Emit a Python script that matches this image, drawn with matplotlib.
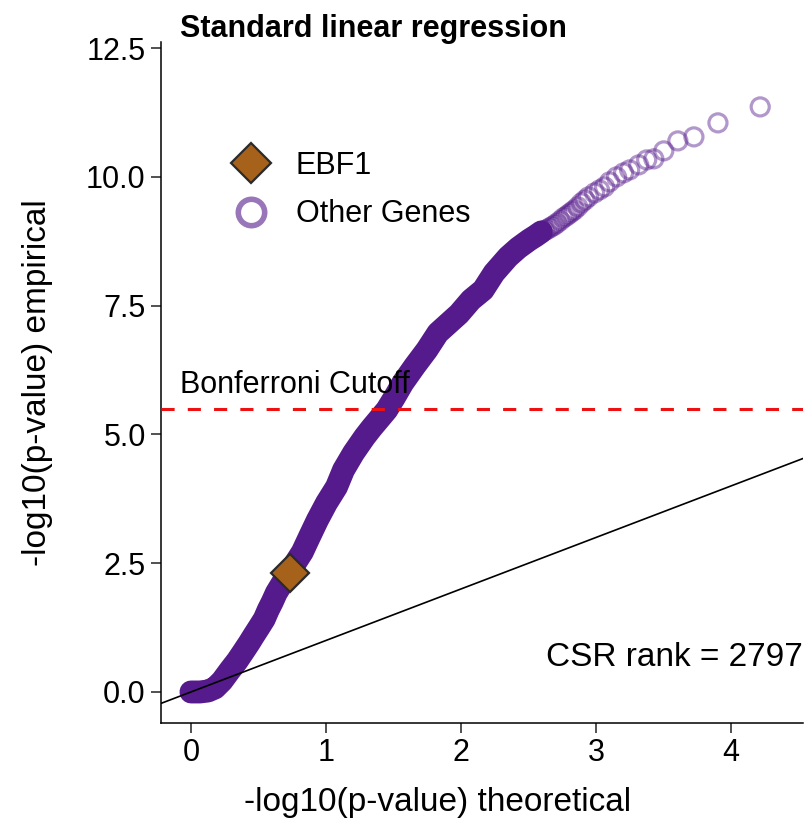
import matplotlib
matplotlib.use("Agg")
import matplotlib.pyplot as plt
from matplotlib.lines import Line2D

plt.rcParams['font.family'] = ['Liberation Sans', 'DejaVu Sans']

# ---- data ----
# dense part of the "Other Genes" QQ curve (theoretical, empirical)
dense_x = [0.000, 0.067, 0.126, 0.178, 0.230, 0.290, 0.342, 0.387, 0.431, 0.468,
           0.506, 0.543, 0.572, 0.602, 0.632, 0.677, 0.729, 0.773, 0.825, 0.877,
           0.937, 1.004, 1.078, 1.130, 1.204, 1.286, 1.338, 1.450, 1.509, 1.569,
           1.658, 1.747, 1.829, 1.903, 1.985, 2.074, 2.164, 2.245, 2.349, 2.424,
           2.506, 2.550, 2.595]
dense_y = [0.000, 0.000, 0.019, 0.078, 0.214, 0.427, 0.602, 0.777, 0.951, 1.107,
           1.262, 1.417, 1.592, 1.748, 1.922, 2.117, 2.311, 2.505, 2.718, 3.010,
           3.340, 3.670, 3.981, 4.311, 4.641, 4.951, 5.126, 5.476, 5.728, 6.000,
           6.330, 6.641, 6.971, 7.146, 7.340, 7.612, 7.806, 8.136, 8.447, 8.621,
           8.777, 8.850, 8.932]
# sparse upper tail of "Other Genes"
tail_x = [2.615, 2.630, 2.650, 2.669, 2.690, 2.710, 2.735, 2.758, 2.780, 2.800,
          2.820, 2.840, 2.865, 2.892, 2.918, 2.944, 2.989, 3.026, 3.063, 3.100,
          3.152, 3.204, 3.249, 3.316, 3.375, 3.428, 3.502, 3.606, 3.725, 3.903,
          4.216]
tail_y = [8.950, 8.970, 9.000, 9.029, 9.060, 9.100, 9.150, 9.204, 9.240, 9.280,
          9.320, 9.359, 9.420, 9.495, 9.550, 9.612, 9.689, 9.748, 9.806, 9.903,
          10.000, 10.078, 10.136, 10.233, 10.330, 10.350, 10.505, 10.699, 10.777, 11.049,
          11.359]
# highlighted gene
ebf1_x = [0.731]
ebf1_y = [2.317]

bonferroni = 5.50
csr_rank = 2797
x_ticks = [0, 1, 2, 3, 4]
y_ticks = [0.0, 2.5, 5.0, 7.5, 10.0, 12.5]

purple = '#551A8B'
brown = '#A6611A'

fig = plt.figure(figsize=(8.09, 8.21), dpi=100)
ax = fig.add_axes([0.1990, 0.1194, 0.7936, 0.8295])

# dense band (heavily overlapping points)
ax.plot(dense_x, dense_y, color=purple, lw=16.5, solid_capstyle='round',
        solid_joinstyle='round', zorder=2)
ax.scatter(dense_x + tail_x, dense_y + tail_y, s=13**2, facecolors='none',
           edgecolors=purple, linewidths=2.3, alpha=0.45, zorder=3)

# reference lines
ax.axline((0, 0), slope=1, color='black', lw=1.2, zorder=4)
ax.axhline(bonferroni, color='#EE1111', lw=2.2, linestyle=(0, (4.3, 4.3)), zorder=4)

ax.plot(ebf1_x, ebf1_y, marker='D', ms=19, mfc=brown, mec='#2a2a2a', mew=1.6,
        ls='none', zorder=6)

ax.text(-0.082, 5.81, 'Bonferroni Cutoff', fontsize=22, ha='left', va='baseline', zorder=5)
ax.text(4.533, 0.505, f'CSR rank = {csr_rank}', fontsize=24, ha='right', va='baseline', zorder=5)

ax.set_xlim(-0.222, 4.533)
ax.set_ylim(-0.602, 12.62)
ax.set_xticks(x_ticks)
ax.set_xticklabels([str(t) for t in x_ticks])
ax.set_yticks(y_ticks)
ax.set_yticklabels([f'{t:.1f}' for t in y_ticks])
ax.tick_params(labelsize=22, length=7, width=1.1, pad=4, color='#222222')
for s in ['top', 'right']:
    ax.spines[s].set_visible(False)
for s in ['left', 'bottom']:
    ax.spines[s].set_linewidth(1.1)

fig.text(438 / 809, 1 - 802 / 821, '-log10(p-value) theoretical', fontsize=24,
         ha='center', va='center')
ax.set_ylabel('-log10(p-value) empirical', fontsize=24)
ax.yaxis.set_label_coords(-0.193, 0.5)
ax.yaxis.label.set_va('center')

fig.text(180 / 809, 1 - 29 / 821, 'Standard linear regression', fontsize=22,
         fontweight='bold', ha='left', va='center')

handles = [
    Line2D([], [], marker='D', ms=20, mfc=brown, mec='#2a2a2a', mew=1.6, ls='none'),
    Line2D([], [], marker='o', ms=19, mfc='none', mec=purple, mew=4, alpha=0.6, ls='none'),
]
ax.legend(handles, ['EBF1', 'Other Genes'], loc='upper left', bbox_to_anchor=(0.104, 0.840),
          frameon=False, fontsize=22, handletextpad=0.73, labelspacing=0.6,
          handlelength=1.5, borderpad=0, borderaxespad=0)

fig.savefig('out.png', dpi=100)
